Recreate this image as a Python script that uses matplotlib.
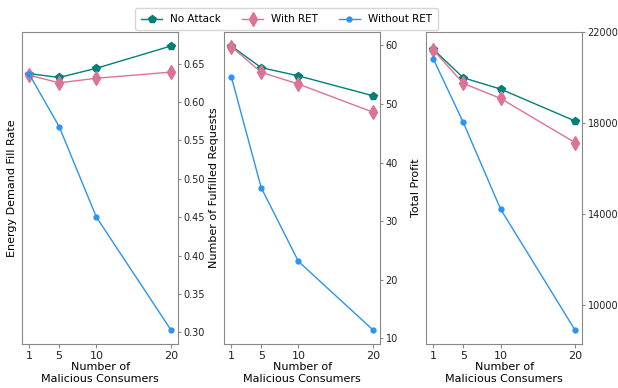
import matplotlib.pyplot as plt

# number of malicious consumers
consumers = [1, 5, 10, 20]

# energy demand fill rate
fill_no_attack = [0.637, 0.632, 0.644, 0.673]
fill_with_ret = [0.635, 0.625, 0.631, 0.639]
fill_without_ret = [0.636, 0.568, 0.450, 0.303]

# number of fulfilled requests
req_no_attack = [59.9, 56.2, 54.8, 51.4]
req_with_ret = [59.8, 55.4, 53.4, 48.6]
req_without_ret = [54.6, 35.7, 23.1, 11.4]

# total profit
profit_no_attack = [21230, 19985, 19490, 18090]
profit_with_ret = [21200, 19740, 19080, 17140]
profit_without_ret = [20800, 18030, 14230, 8920]

ylabels = ['Energy Demand Fill Rate', 'Number of Fulfilled Requests', 'Total Profit']
series = [
    (fill_no_attack, fill_with_ret, fill_without_ret),
    (req_no_attack, req_with_ret, req_without_ret),
    (profit_no_attack, profit_with_ret, profit_without_ret),
]

fig, axes = plt.subplots(1, 3, figsize=(6.18, 3.88), dpi=100)
plt.subplots_adjust(left=0.036, right=0.942, top=0.918, bottom=0.113, wspace=0.297)

for ax, label, (na, wr, wo) in zip(axes, ylabels, series):
    ax.plot(consumers, na, marker='p', color='#00807a', markersize=6, lw=1, label='No Attack')
    ax.plot(consumers, wr, marker='d', color='#dc7397', markersize=7, lw=1, label='With RET')
    ax.plot(consumers, wo, marker='o', color='#2a93f5', markersize=3.5, lw=1, label='Without RET')
    ax.set_xticks(consumers)
    ax.set_xlabel('Number of\nMalicious Consumers', fontsize=8, labelpad=1)
    ax.set_ylabel(label, fontsize=8)
    ax.yaxis.tick_right()
    ax.tick_params(axis='x', labelsize=8, pad=2, length=3)
    ax.tick_params(axis='y', labelsize=7, pad=1.5, length=2.5)
    ax.tick_params(axis='both', color='#888888', labelcolor='#222222')
    for s in ax.spines.values():
        s.set_color('#888888')

axes[2].set_yticks([10000, 14000, 18000, 22000])

handles, labels = axes[0].get_legend_handles_labels()
fig.legend(handles, labels, loc='upper center', bbox_to_anchor=(0.464, 0.993), ncol=3, fontsize=7.5,
           borderpad=0.6)

plt.savefig('out.png')
